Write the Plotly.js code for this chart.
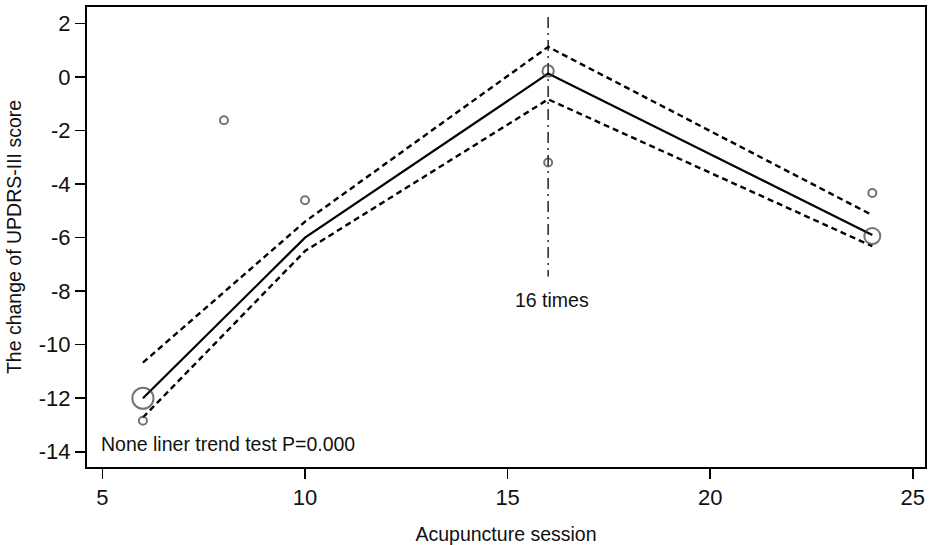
<!DOCTYPE html>
<html>
<head>
<meta charset="utf-8">
<script src="https://cdn.plot.ly/plotly-3.0.1.min.js"></script>
<style>
  body { margin: 0; background: #fff; }
  #chart { width: 935px; height: 545px; }
</style>
</head>
<body>
<div id="chart"></div>
<script>
// observed points (session, change of score) and their weights
var ptX = [6, 6, 8, 10, 16, 16, 24, 24];
var ptY = [-12.0, -12.84, -1.61, -4.6, 0.23, -3.19, -4.33, -5.94];
var ptW = [7, 1, 1, 1, 2, 1, 1, 4];

// piecewise fit and its confidence band
var fitX = [6, 10, 16, 24];
var fitY = [-12.0, -6.0, 0.13, -5.9];
var upperY = [-10.67, -5.4, 1.13, -5.16];
var lowerY = [-12.72, -6.5, -0.83, -6.32];

// knot reference line
var knotX = [16, 16];
var knotY = [2.25, -7.45];
var knotLabel = '16 times';
var noteText = 'None liner trend test P=0.000';

var xTicks = [5, 10, 15, 20, 25];
var xTickText = ['5', '10', '15', '20', '25'];
var yTicks = [2, 0, -2, -4, -6, -8, -10, -12, -14];
var yTickText = ['2', '0', '-2', '-4', '-6', '-8', '-10', '-12', '-14'];

var FONT = 'Liberation Sans, Arial, sans-serif';

var sizes = [];
for (var iii = 0; iii < ptW.length; iii++)
{
    sizes.push(8 * Math.sqrt(ptW[iii]));
}

var traces = [
    {
        x: knotX, y: knotY, mode: 'lines', type: 'scatter',
        line: {color: '#222', width: 1.5, dash: '11px,5px,2px,5px'}
    },
    {
        x: fitX, y: upperY, mode: 'lines', type: 'scatter',
        line: {color: '#000', width: 2.4, dash: '6px,4px'}
    },
    {
        x: fitX, y: lowerY, mode: 'lines', type: 'scatter',
        line: {color: '#000', width: 2.4, dash: '6px,4px'}
    },
    {
        x: fitX, y: fitY, mode: 'lines', type: 'scatter',
        line: {color: '#000', width: 2.2}
    },
    {
        x: ptX, y: ptY, mode: 'markers', type: 'scatter',
        marker: {symbol: 'circle-open', size: sizes, color: '#383838', line: {width: 2}}
    }
];

var layout = {
    width: 935,
    height: 545,
    showlegend: false,
    paper_bgcolor: '#fff',
    plot_bgcolor: '#fff',
    margin: {l: 87, r: 10, t: 7, b: 78},
    font: {family: FONT, color: '#111'},
    xaxis: {
        range: [4.62, 25.3],
        tickvals: xTicks, ticktext: xTickText,
        ticks: 'outside', ticklen: 10, tickwidth: 1.5, tickcolor: '#000',
        showgrid: false, zeroline: false,
        showline: true, linecolor: '#000', linewidth: 2, mirror: true,
        tickfont: {size: 22, family: FONT, color: '#111'},
        title: {text: 'Acupuncture session', font: {size: 19.5, family: FONT, color: '#111'}, standoff: 18}
    },
    yaxis: {
        range: [-14.57, 2.62],
        tickvals: yTicks, ticktext: yTickText,
        ticks: 'outside', ticklen: 10, tickwidth: 1.5, tickcolor: '#000',
        showgrid: false, zeroline: false,
        showline: true, linecolor: '#000', linewidth: 2, mirror: true,
        tickfont: {size: 22, family: FONT, color: '#111'},
        title: {text: 'The change of UPDRS-III score', font: {size: 19.5, family: FONT, color: '#111'}, standoff: 12}
    },
    annotations: [
        {
            x: 16, y: -8.33, xref: 'x', yref: 'y', text: knotLabel, showarrow: false,
            xshift: 4, font: {size: 19.5, family: FONT, color: '#111'}
        },
        {
            x: 4.92, y: -13.71, xref: 'x', yref: 'y', text: noteText, showarrow: false,
            xanchor: 'left', yanchor: 'middle', font: {size: 19.5, family: FONT, color: '#111'}
        }
    ]
};

Plotly.newPlot('chart', traces, layout, {displayModeBar: false, staticPlot: true});
</script>
</body>
</html>
